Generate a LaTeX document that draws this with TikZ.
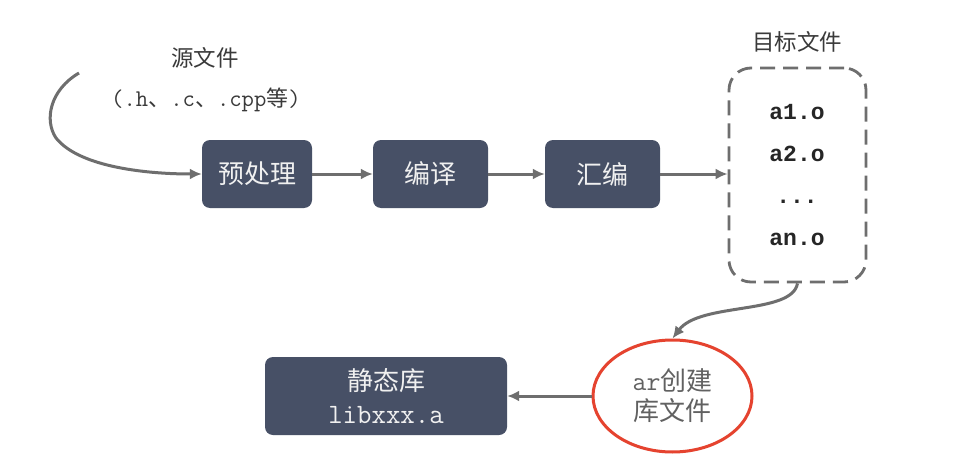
\documentclass[tikz,border=0pt]{standalone}
\usepackage{fontspec}
\setmainfont{Noto Sans CJK SC}
\newfontfamily\cjk{Noto Sans CJK SC}
\newfontfamily\boldmono{Liberation Mono}
\newfontfamily\lmmono{Latin Modern Mono}
\usetikzlibrary{arrows.meta,shapes.geometric}
\definecolor{boxfill}{HTML}{475066}
\definecolor{arrowgray}{HTML}{6E6E6E}
\definecolor{labelgray}{HTML}{3A3A3A}
\definecolor{ellred}{HTML}{E5432F}
\tikzset{
  stepbox/.style={draw=none, fill=boxfill, rounded corners=8pt, text=white!94!black,
    minimum width=110pt, minimum height=68pt, inner sep=0pt,
    font=\cjk\fontsize{26}{30}\selectfont},
  conn/.style={draw=arrowgray, line width=3pt, -{Latex[length=12pt,width=11pt]}},
  lbl/.style={text=labelgray, inner sep=0pt, font=\cjk\fontsize{22.5}{26}\selectfont},
  objtxt/.style={text=black!85, inner sep=0pt, anchor=base, font=\boldmono\bfseries\fontsize{23}{26}\selectfont},
}
\begin{document}
\begin{tikzpicture}[x=1pt,y=-1pt]
\useasboundingbox (0,0) rectangle (956,460);
\fill[white] (0,0) rectangle (956,460);

% labels
\node[lbl] (src) at (205,58) {源文件};
\node[lbl, font=\fontsize{24}{28}\selectfont] (srcext) at (206,100) {{\lmmono (.h}{\cjk\fontsize{22}{26}\selectfont 、}{\lmmono .c}{\cjk\fontsize{22}{26}\selectfont 、}{\lmmono .cpp}{\cjk\fontsize{22}{26}\selectfont 等}{\lmmono )}};
\coordinate (srcstart) at (79,73);

% steps
\node[stepbox] (pre) at (257,174) {预处理};
\node[stepbox, minimum width=115pt] (comp) at (430.5,174) {编译};
\node[stepbox, minimum width=115pt] (asm) at (602.5,174) {汇编};

% object file box
\node[draw=arrowgray, line width=2.8pt, dash pattern=on 15pt off 8pt, rounded corners=22pt,
  minimum width=137pt, minimum height=214pt, inner sep=0pt] (obj) at (797.5,175) {};
\node[lbl] (objlbl) at (797,42) {目标文件};
\node[objtxt] (o1) at (797,119) {a1.o};
\node[objtxt] (o2) at (797,161) {a2.o};
\node[objtxt] (o3) at (797,203) {...};
\node[objtxt] (o4) at (797,245) {an.o};

% ar ellipse
\node[ellipse, draw=ellred, line width=3pt, minimum width=159pt, minimum height=112pt, inner sep=0pt,
  text=black!62, align=center, font=\cjk\fontsize{26}{30}\selectfont] (ar) at (672.5,396)
  {{\lmmono\fontsize{27}{30}\selectfont ar}创建\\库文件};

% static library
\node[stepbox, minimum width=242pt, minimum height=78pt, align=center,
  font=\cjk\fontsize{26}{33}\selectfont] (lib) at (386,396)
  {静态库\\{\lmmono\fontsize{28}{33}\selectfont libxxx.a}};

% connectors
\draw[conn] (srcstart) .. controls (50,90) and (44,120) .. (56,138)
  .. controls (80,168) and (150,174) .. (pre.west);
\draw[conn] (pre.east) -- (comp.west);
\draw[conn] (comp.east) -- (asm.west);
\draw[conn] (asm.east) -- (asm.east -| obj.west);
\draw[conn] (obj.south) .. controls (792,315) and (700,302) .. (ar.north);
\draw[conn] (ar.west) -- (lib.east);
\end{tikzpicture}
\end{document}
